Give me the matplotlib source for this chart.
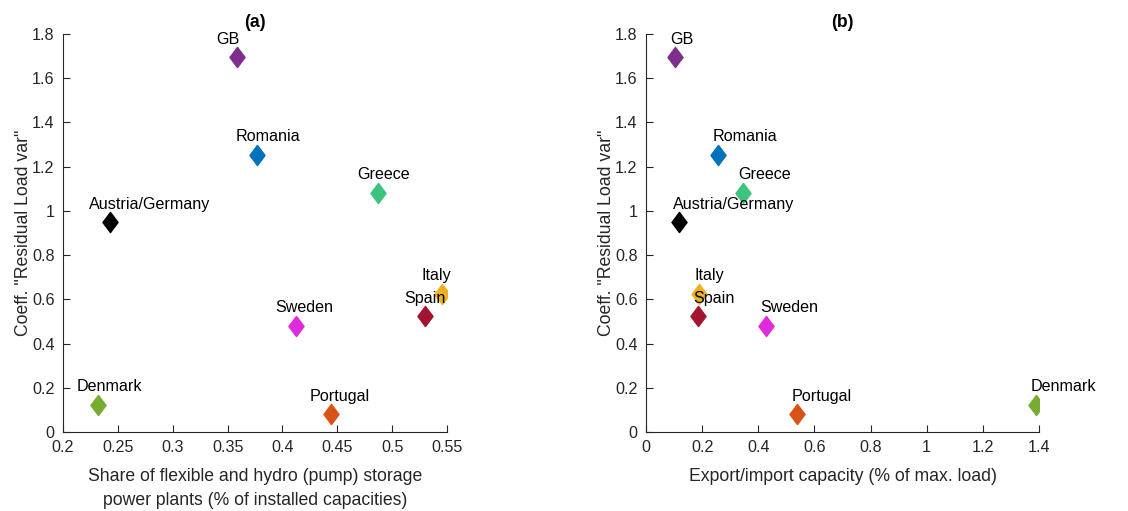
import matplotlib
matplotlib.use("Agg")
import matplotlib.pyplot as plt
from matplotlib.path import Path
from matplotlib.ticker import FuncFormatter
import numpy as np

plt.rcParams['font.family'] = ['Liberation Sans', 'DejaVu Sans']

countries = ['GB', 'Romania', 'Greece', 'Austria/Germany', 'Italy',
             'Spain', 'Sweden', 'Denmark', 'Portugal']
colors = ['#7E2F8E', '#0072BD', '#3DC47C', '#000000', '#EDB120',
          '#A2142F', '#DE2BDE', '#77AC30', '#D95319']

# coefficient of residual load variability (shared y values)
coeff_var = [1.695, 1.254, 1.083, 0.949, 0.625, 0.524, 0.480, 0.122, 0.080]
# (a) share of flexible and hydro (pump) storage plants
flex_share = [0.359, 0.3765, 0.487, 0.2425, 0.5458, 0.530, 0.4126, 0.2315, 0.4439]
# (b) export/import capacity
exch_cap = [0.104, 0.256, 0.347, 0.116, 0.190, 0.187, 0.427, 1.388, 0.539]

yticks = [0, 0.2, 0.4, 0.6, 0.8, 1, 1.2, 1.4, 1.6, 1.8]
xticks_a = [0.2, 0.25, 0.3, 0.35, 0.4, 0.45, 0.5, 0.55]
xticks_b = [0, 0.2, 0.4, 0.6, 0.8, 1, 1.2, 1.4]

# slightly wide diamond, like MATLAB's 'd'
diamond = Path([(0, 1), (0.75, 0), (0, -1), (-0.75, 0), (0, 1)],
               [Path.MOVETO, Path.LINETO, Path.LINETO, Path.LINETO, Path.CLOSEPOLY])

axcol = '#262626'
fs = 11.6
fs_lab = 12.7   # axis labels and titles are ~1.1x the tick font

fig = plt.figure(figsize=(11.28, 5.11), dpi=100)
ax_a = fig.add_axes([0.0559, 0.1546, 0.3404, 0.7789])
ax_b = fig.add_axes([0.5727, 0.1546, 0.3484, 0.7789])

panels = [(ax_a, flex_share, xticks_a, (0.2, 0.55), '(a)',
           'Share of flexible and hydro (pump) storage\npower plants (% of installed capacities)'),
          (ax_b, exch_cap, xticks_b, (0, 1.4), '(b)',
           'Export/import capacity (% of max. load)')]

for ax, xs, xt, xl, title, xlabel in panels:
    for name, c, x, y in zip(countries, colors, xs, coeff_var):
        ax.plot(x, y, marker=diamond, markersize=14.5, color=c,
                markeredgecolor=c, linestyle='none', zorder=3)
        # label sits just above, shifted a fixed amount left in data units
        ax.text(x - 0.019, y + 0.082, name, ha='left', va='center',
                fontsize=fs, color='black', clip_on=False, zorder=4)
    ax.set_xlim(*xl)
    ax.set_ylim(0, 1.8)
    ax.set_xticks(xt)
    ax.set_yticks(yticks)
    fmt = FuncFormatter(lambda v, p: '%g' % round(v, 3))
    ax.xaxis.set_major_formatter(fmt)
    ax.yaxis.set_major_formatter(fmt)
    ax.spines['top'].set_visible(False)
    ax.spines['right'].set_visible(False)
    for s in ('left', 'bottom'):
        ax.spines[s].set_color(axcol)
        ax.spines[s].set_linewidth(0.8)
    ax.tick_params(direction='in', length=5, width=0.8, colors=axcol,
                   labelsize=fs, pad=6)
    ax.set_title(title, fontsize=fs_lab, fontweight='bold', pad=5)
    ax.set_xlabel(xlabel, fontsize=fs_lab, color=axcol, labelpad=9,
                  linespacing=1.55)
    ax.set_ylabel('Coeff. "Residual Load var"', fontsize=fs_lab, color=axcol,
                  labelpad=0)

fig.savefig('out.png', dpi=100)
